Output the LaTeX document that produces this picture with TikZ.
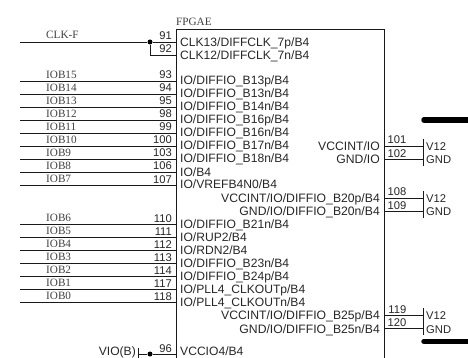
\documentclass[tikz,border=0pt]{standalone}
\usepackage{fontspec}
\setmainfont{Liberation Serif}
\setsansfont{Liberation Sans}
\usetikzlibrary{positioning}
\tikzset{
  pinline/.style={line width=0.85pt,black!90},
  pinnum/.style={font=\fontsize{11.2pt}{13pt}\sffamily,anchor=base east,inner sep=0pt,text=black!85},
  netname/.style={font=\fontsize{11.2pt}{13pt}\selectfont,anchor=base west,inner sep=0pt,text=black!75},
  pinname/.style={font=\fontsize{12.1pt}{13pt}\sffamily,anchor=base west,inner sep=0pt,text=black!85},
  rightname/.style={font=\fontsize{12.2pt}{13pt}\sffamily,anchor=base east,inner sep=0pt,text=black!85},
  supply/.style={font=\fontsize{11.2pt}{13pt}\sffamily,anchor=base west,inner sep=0pt,text=black!85},
  busbar/.style={line width=5.5pt,line cap=round,black},
  dotnode/.style={circle,fill=black,inner sep=0pt,minimum size=5pt}
}
\begin{document}
\begin{tikzpicture}[x=1pt,y=-1pt]
  \useasboundingbox (0,0) rectangle (468,358);

  % device box
  \coordinate (boxtl) at (176,29);
  \coordinate (boxtr) at (384,29);
  \coordinate (boxbl) at (176,358);
  \coordinate (boxbr) at (384,358);
  \draw[pinline] (boxbl) -- (boxtl) -- (boxtr) -- (boxbr);
  \node[netname] (title) at (176,25.5) {FPGAE};

  % clock pins
  \coordinate (clkfree) at (20,42);
  \coordinate (clkpin) at (176,42);
  \coordinate (clkpinb) at (176,55);
  \node[dotnode] (clkdot) at (150,42) {};
  \coordinate (clkbend) at (150,55);
  \draw[pinline] (clkfree) -- (clkdot) -- (clkpin);
  \draw[pinline] (clkdot) -- (clkbend) -- (clkpinb);
  \node[netname] (clknet) at (46,38.5) {CLK-F};
  \node[pinnum] (p91) at (172,39.5) {91};
  \node[pinnum] (p92) at (172,52.5) {92};
  \node[pinname] (n91) at (180,46.3) {CLK13/DIFFCLK\_7p/B4};
  \node[pinname] (n92) at (180,59.3) {CLK12/DIFFCLK\_7n/B4};

  % left side bus pins
  \foreach \y/\net/\num/\txt in {
    81/IOB15/93/{IO/DIFFIO\_B13p/B4},
    94/IOB14/94/{IO/DIFFIO\_B13n/B4},
    107/IOB13/95/{IO/DIFFIO\_B14n/B4},
    120/IOB12/98/{IO/DIFFIO\_B16p/B4},
    133/IOB11/99/{IO/DIFFIO\_B16n/B4},
    146/IOB10/100/{IO/DIFFIO\_B17n/B4},
    159/IOB9/103/{IO/DIFFIO\_B18n/B4},
    172/IOB8/106/{IO/B4},
    185/IOB7/107/{IO/VREFB4N0/B4},
    224/IOB6/110/{IO/DIFFIO\_B21n/B4},
    237/IOB5/111/{IO/RUP2/B4},
    250/IOB4/112/{IO/RDN2/B4},
    263/IOB3/113/{IO/DIFFIO\_B23n/B4},
    276/IOB2/114/{IO/DIFFIO\_B24p/B4},
    289/IOB1/117/{IO/PLL4\_CLKOUTp/B4},
    302/IOB0/118/{IO/PLL4\_CLKOUTn/B4}} {
    \coordinate (l\num) at (20,\y);
    \coordinate (r\num) at (176,\y);
    \draw[pinline] (l\num) -- (r\num);
    \node[netname] (net\num) at (46,\y-2.5) {\net};
    \node[pinnum] (p\num) at (172,\y-2) {\num};
    \node[pinname] (n\num) at (180,\y+4) {\txt};
  }

  % right side power pins
  \foreach \y/\a/\b/\ta/\tb in {
    146/101/102/{VCCINT/IO}/{GND/IO},
    198/108/109/{VCCINT/IO/DIFFIO\_B20p/B4}/{GND/IO/DIFFIO\_B20n/B4},
    315.3/119/120/{VCCINT/IO/DIFFIO\_B25p/B4}/{GND/IO/DIFFIO\_B25n/B4}} {
    \coordinate (pa\a) at (384,\y);
    \coordinate (pb\b) at (384,\y+13.3);
    \coordinate (ta\a) at (423,\y);
    \coordinate (tb\b) at (423,\y+13.3);
    \draw[pinline] (pa\a) -- (ta\a);
    \draw[pinline] (pb\b) -- (tb\b);
    \draw[pinline] ([yshift=7pt]ta\a) -- ([yshift=-6.5pt]tb\b);
    \node[pinnum] (num\a) at (406.5,\y-2) {\a};
    \node[pinnum] (num\b) at (406.5,\y+11.3) {\b};
    \node[rightname] (name\a) at (380,\y+4.5) {\ta};
    \node[rightname] (name\b) at (380,\y+17.8) {\tb};
    \node[supply] (v\a) at (426,\y+4.5) {V12};
    \node[supply] (g\b) at (426,\y+17.8) {GND};
  }

  % bus bars
  \coordinate (busa) at (424,120);
  \coordinate (busaend) at (472,120);
  \coordinate (busb) at (424,341.3);
  \coordinate (busbend) at (472,341.3);
  \draw[busbar] (busa) -- (busaend);
  \draw[busbar] (busb) -- (busbend);

  % vccio pin
  \node[dotnode] (viodot) at (150,354) {};
  \coordinate (viotop) at (138,347.5);
  \coordinate (viobot) at (138,358);
  \coordinate (viomid) at (138,354);
  \coordinate (viopin) at (176,354);
  \draw[pinline] (viotop) -- (viobot);
  \draw[pinline] (viomid) -- (viodot) -- (viopin);
  \node[pinname,anchor=base east] (vionet) at (136,355.4) {VIO(B)};
  \node[pinnum] (p96) at (172,352.5) {96};
  \node[pinname] (n96) at (180,355.4) {VCCIO4/B4};
\end{tikzpicture}
\end{document}
